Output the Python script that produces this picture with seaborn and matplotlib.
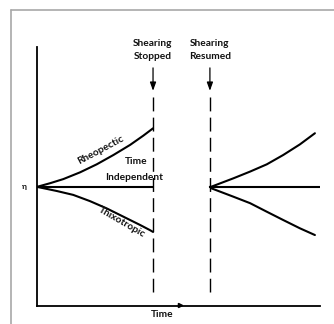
import matplotlib
matplotlib.use("Agg")
import matplotlib.pyplot as plt
from matplotlib.lines import Line2D
import seaborn as sns

# schematic viscosity vs time (arbitrary units)
t_stop = 41.0
t_resume = 61.1
t_end = 100.0
eta0 = 46.0

rheo_t = [0, 4.6, 9.3, 15.2, 21.1, 27.0, 32.9, 37.6, 41.0]
rheo_eta = [46.0, 47.4, 49.0, 51.6, 54.7, 58.3, 62.2, 65.8, 68.6]

thix_t = [0, 7.0, 12.8, 18.7, 24.6, 30.5, 36.4, 39.9, 41.0]
thix_eta = [46.0, 44.4, 42.9, 40.5, 37.7, 34.5, 31.3, 29.3, 28.6]

flat_t = [0, t_stop]
flat_eta = [eta0, eta0]

up_t = [61.1, 61.7, 69.4, 75.3, 81.2, 87.0, 92.9, 98.2]
up_eta = [46.0, 46.1, 49.3, 51.9, 54.7, 58.3, 62.4, 66.7]

down_t = [61.1, 61.7, 69.4, 75.3, 81.2, 87.0, 92.9, 98.2]
down_eta = [46.0, 45.4, 42.2, 39.7, 36.4, 33.2, 30.0, 27.4]

flat2_t = [t_resume, t_end]
flat2_eta = [eta0, eta0]

sns.set_style("white")
plt.rcParams['font.family'] = ['Lato', 'DejaVu Sans']

fig = plt.figure(figsize=(3.34, 3.24), dpi=100)
ax = fig.add_axes([37/334, 18/324, 283/334, 259/324])

for xs, ys in [(rheo_t, rheo_eta), (thix_t, thix_eta), (flat_t, flat_eta),
               (up_t, up_eta), (down_t, down_eta), (flat2_t, flat2_eta)]:
    sns.lineplot(x=xs, y=ys, ax=ax, color='black', lw=1.5, sort=False)

# dashed markers where shearing stops / resumes
for tx in [t_stop, t_resume]:
    ax.plot([tx, tx], [80.7, 5.4], color='black', lw=1.0, dashes=(10, 4.5))
    ax.annotate('', xy=(tx, 82.0), xytext=(tx, 93.0),
                arrowprops=dict(arrowstyle='-|>,head_length=0.5,head_width=0.18',
                                color='black', lw=0.9))

ax.set_xlim(0, t_end)
ax.set_ylim(0, 100)
ax.set_xticks([])
ax.set_yticks([])
for s in ['top', 'right']:
    ax.spines[s].set_visible(False)
for s in ['left', 'bottom']:
    ax.spines[s].set_color('black')
    ax.spines[s].set_linewidth(1.3)

fs = 7.3
txt = dict(color='#111111', fontsize=fs, fontweight='bold', ha='center', va='center')
ax.text(t_stop, 101.5, 'Shearing', clip_on=False, **txt)
ax.text(t_stop, 96.3, 'Stopped', clip_on=False, **txt)
ax.text(t_resume, 101.5, 'Shearing', clip_on=False, **txt)
ax.text(t_resume, 96.3, 'Resumed', clip_on=False, **txt)
ax.text(22.4, 60.4, 'Rheopectic', rotation=28, **txt)
ax.text(35.0, 55.7, 'Time', **txt)
ax.text(34.3, 49.6, 'Independent', **txt)
ax.text(29.8, 32.2, 'Thixotropic', rotation=-30, **txt)
ax.text(-4.6, eta0, 'η', clip_on=False, **dict(txt, fontsize=6))
ax.text(44.2, -3.3, 'Time', clip_on=False, **txt)
ax.plot([50.5], [0.2], marker='>', ms=3, color='black', clip_on=False)

# grey scan frame (top and left edges)
fig.add_artist(Line2D([11/334, 11/334], [0, 1 - 10/324], color='#a8a8a8', lw=1.2))
fig.add_artist(Line2D([11/334, 1], [1 - 10/324, 1 - 10/324], color='#a8a8a8', lw=1.2))

fig.savefig('out.png', dpi=100)
